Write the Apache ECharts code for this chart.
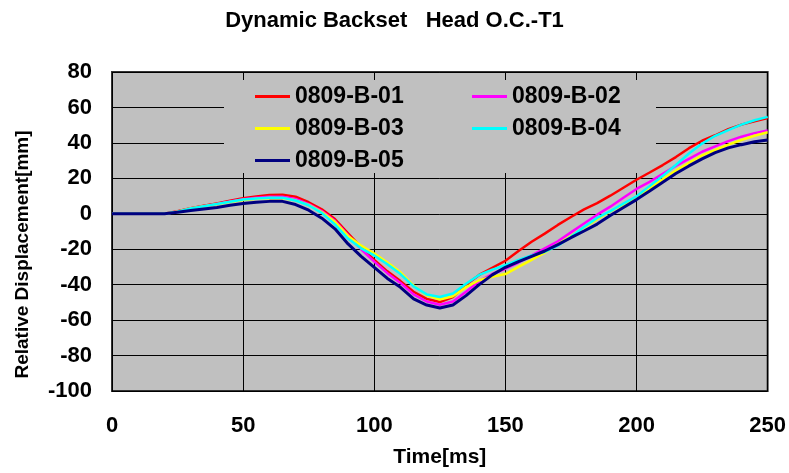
<!DOCTYPE html>
<html>
<head>
<meta charset="utf-8">
<script src="https://cdn.jsdelivr.net/npm/echarts@6/dist/echarts.min.js"></script>
<style>html,body{margin:0;padding:0;background:#fff}#c{width:789px;height:473px}</style>
</head>
<body>
<div id="c"></div>
<script>
var times = [0,5,10,15,20,25,30,35,40,45,50,55,60,65,70,75,80,85,90,95,100,105,110,115,120,125,130,135,140,145,150,155,160,165,170,175,180,185,190,195,200,205,210,215,220,225,230,235,240,245,250];
var s01 = [0,0,0,0,0,1.5,3.2,4.5,5.8,7.4,8.8,9.8,10.6,10.8,9.6,6.5,2.5,-3,-11,-19,-26,-32.5,-38,-44,-48,-49.8,-47,-40,-34.5,-30.5,-26.5,-21,-15.8,-11.2,-6.3,-1.8,2.5,6,10.2,14.7,19.2,23.3,27.5,32,37,41.2,44.3,47.8,50.3,52.2,54];
var s02 = [0,0,0,0,0,1.2,2.8,4.2,5.5,7,8.2,9,9.6,9.6,8.4,5.4,1.5,-4,-12,-20,-27,-33.5,-39,-45.5,-49.5,-51.3,-49.5,-44,-38,-34,-31,-27.5,-23.5,-19.5,-15.5,-10.5,-5.5,-0.5,4,9,14,18,22.5,27,31,35,38,41,43.5,45.5,47];
var s03 = [0,0,0,0,0,1.2,3,4.2,5.4,6.6,7.8,8.5,8.9,8.8,7.6,5,1,-4.5,-12.5,-18,-22.5,-27.5,-33,-40.5,-46,-48.4,-46.5,-41.4,-37.5,-35.5,-34,-30,-26,-21.9,-17.2,-12.5,-7.8,-3.1,1.3,5,9,14.3,19.5,24.4,28.8,33,36,39,41.6,44,46];
var s04 = [0,0,0,0,0,1.2,3,4.3,5.5,6.8,8,8.6,9,9,7.5,4.8,0.5,-6,-14,-19.5,-23.5,-28.5,-34,-41,-45.5,-47,-45,-39.5,-34.5,-31.5,-29,-26,-23.5,-21.5,-18,-13,-7.5,-2.3,1.5,5.7,9.9,15.6,21.4,27.5,34,39.6,44,47.2,50.3,52.8,54.7];
var s05 = [0,0,0,0,0,0.8,1.8,2.7,3.6,4.8,5.8,6.5,7,7,5.2,2,-2.5,-8.5,-17,-24,-30.2,-36.5,-41.5,-48,-51.5,-53.2,-51.5,-46.2,-40,-34.5,-30.2,-27,-24,-21,-17.4,-13.5,-9.7,-5.8,-1,3.5,8,12.8,17.8,22.7,27,31,34.5,37.2,39,40.6,41.6];
var names = ['0809-B-01','0809-B-02','0809-B-03','0809-B-04','0809-B-05'];
var colors = ['#ff0000','#ff00ff','#ffff00','#00ffff','#000080'];
var yTicks = [-100,-80,-60,-40,-20,0,20,40,60,80];
var xTicks = [0,50,100,150,200,250];

var chart = echarts.init(document.getElementById('c'), null, {renderer:'canvas'});
var all = [s01,s02,s03,s04,s05];
var FF = '"Liberation Sans", Arial, sans-serif';
var series = all.map(function(arr,i){
  return {
    name: names[i], type:'line', symbol:'none', smooth:false,
    data: times.map(function(t,k){return [t, arr[k]];}),
    lineStyle:{color:colors[i], width: i===4 ? 3 : 2.5},
    itemStyle:{color:colors[i]},
    z: 5 + i, animation:false
  };
});
var legendCommon = {
  orient:'vertical', top:85, padding:0, itemGap:9,
  icon:'rect', itemWidth:35, itemHeight:3,
  textStyle:{fontFamily:FF, fontWeight:'bold', fontSize:23, color:'#000', lineHeight:23, padding:[0,0,0,0]},
  selectedMode:false, z:10
};
chart.setOption({
  animation:false,
  backgroundColor:'#ffffff',
  title:{text:'Dynamic Backset   Head O.C.-T1', left:'center', top:5,
    textStyle:{fontFamily:FF, fontWeight:'bold', fontSize:22, color:'#000'}},
  grid:{left:112, right:21, top:72, bottom:80, show:true, backgroundColor:'#c0c0c0', borderColor:'#333', borderWidth:2},
  legend:[
    Object.assign({}, legendCommon, {left:255, data:[names[0],names[2],names[4]]}),
    Object.assign({}, legendCommon, {left:472, data:[names[1],names[3]]})
  ],
  graphic:[{type:'rect', shape:{x:224, y:80, width:432, height:93}, style:{fill:'#c0c0c0'}, z:3, silent:true}],
  xAxis:{type:'value', min:0, max:250, interval:50,
    name:'Time[ms]', nameLocation:'middle', nameGap:56,
    nameTextStyle:{fontFamily:FF, fontWeight:'bold', fontSize:21, color:'#000'},
    axisLine:{show:false}, axisTick:{show:false},
    axisLabel:{fontFamily:FF, fontWeight:'bold', fontSize:22, color:'#000', margin:24,
      formatter:function(v){return xTicks.indexOf(v)>=0 ? String(v) : '';}},
    splitLine:{show:true, lineStyle:{color:'#000', width:1}}},
  yAxis:{type:'value', min:-100, max:80, interval:20,
    name:'Relative Displacement[mm]', nameLocation:'middle', nameGap:80,
    nameTextStyle:{fontFamily:FF, fontWeight:'bold', fontSize:19, color:'#000', padding:[0,46,0,0]},
    axisLine:{show:false}, axisTick:{show:false},
    axisLabel:{fontFamily:FF, fontWeight:'bold', fontSize:22, color:'#000', margin:20, padding:[6,0,0,0],
      formatter:function(v){return yTicks.indexOf(v)>=0 ? String(v) : '';}},
    splitLine:{show:true, lineStyle:{color:'#000', width:1}}},
  series: series
});
</script>
</body>
</html>
